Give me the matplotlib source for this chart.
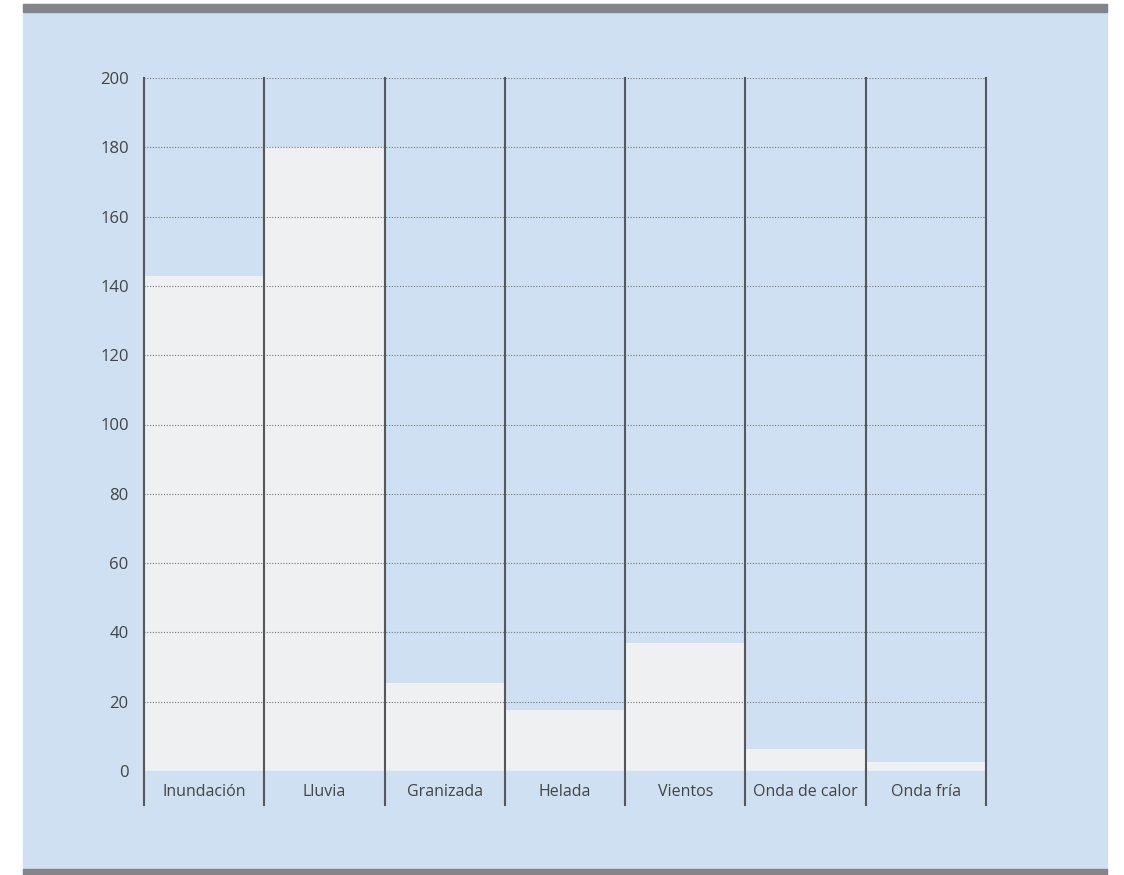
import matplotlib.pyplot as plt
from matplotlib.patches import Rectangle

categories = ["Inundación", "Lluvia", "Granizada", "Helada", "Vientos",
              "Onda de calor", "Onda fría"]
values = [143, 180, 25.5, 17.6, 37, 6.3, 2.6]
yticks = [0, 20, 40, 60, 80, 100, 120, 140, 160, 180, 200]

W, H = 1124, 875
fig = plt.figure(figsize=(W / 100, H / 100), dpi=100, facecolor="white")

# background axes holding the panel and grey strips
bg = fig.add_axes([0, 0, 1, 1], zorder=-10)
bg.set_xlim(0, W)
bg.set_ylim(H, 0)
bg.axis("off")
bg.add_patch(Rectangle((23, 4), 1107 - 23, H - 4, color="#cee0f1"))
bg.add_patch(Rectangle((23, 4), 1107 - 23, 8, color="#838588"))
bg.add_patch(Rectangle((23, 869), 1107 - 23, 6, color="#838588"))

ax = fig.add_axes([144 / W, (H - 771) / H, (986 - 144) / W, (771 - 78) / H], zorder=1)
ax.patch.set_alpha(0)

x = range(len(categories))
ax.bar(x, values, width=1.0, color="#eff0f2", zorder=1)

ax.set_xlim(-0.5, len(categories) - 0.5)
ax.set_ylim(0, 200)
ax.set_yticks(yticks)
ax.set_yticklabels([str(t) for t in yticks])
ax.set_xticks(list(x))
ax.set_xticklabels(categories)

for t in yticks:
    ax.axhline(t, color="#777777", lw=0.8, ls=(0, (1, 1.5)), zorder=2)

# separators extending below the zero line
for b in range(len(categories) + 1):
    ax.axvline(b - 0.5, ymin=-34 / 693, ymax=1, color="#55575a", lw=1.5,
               clip_on=False, zorder=3)

for s in ax.spines.values():
    s.set_visible(False)
ax.tick_params(axis="both", length=0, colors="#444444", labelsize=11.5)
ax.tick_params(axis="y", pad=11, labelsize=12)
ax.tick_params(axis="x", pad=9)
for lbl in ax.get_xticklabels() + ax.get_yticklabels():
    lbl.set_fontfamily("Open Sans")
    lbl.set_fontweight("medium")

fig.savefig("out.png", dpi=100, facecolor="white")
